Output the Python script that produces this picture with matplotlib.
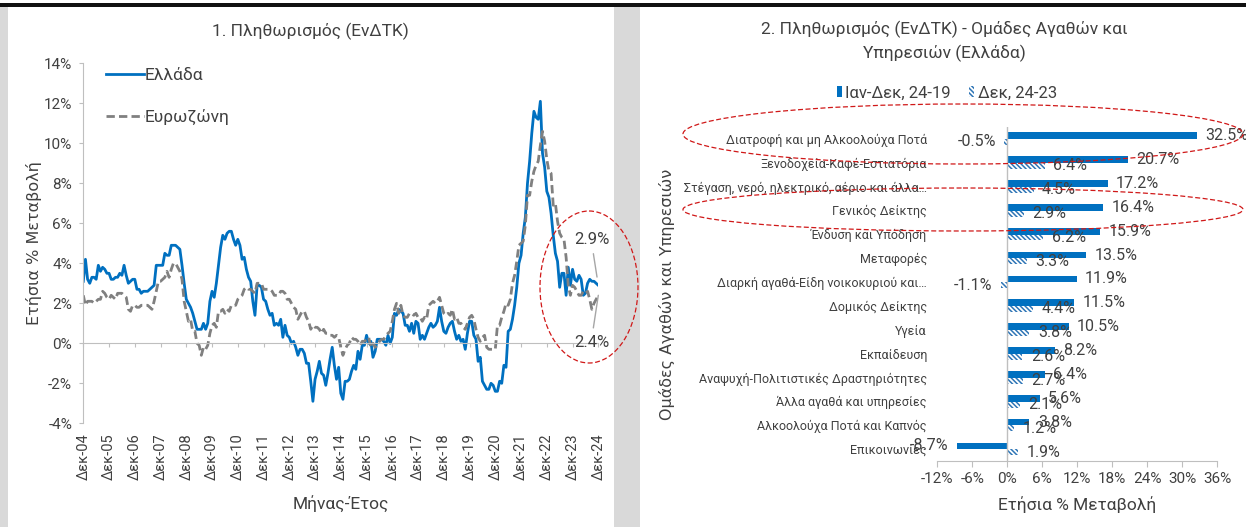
import numpy as np
import matplotlib
matplotlib.use("Agg")
import matplotlib.pyplot as plt
from matplotlib.patches import Ellipse, Rectangle

plt.rcParams['font.family'] = ['Roboto', 'DejaVu Sans']
plt.rcParams['hatch.linewidth'] = 1.1

W, H = 1246, 527
TXT = '#404040'
GRID = '#bfbfbf'

# ---- chart 1: annual HICP change, monthly, Dec 2004 - Dec 2024 ----
greece = [
    3.1,
    4.2, 3.2, 3.0, 3.3, 3.3, 3.2, 3.9, 3.6, 3.8, 3.7, 3.5, 3.5,        # 2005
    3.2, 3.2, 3.3, 3.3, 3.5, 3.4, 3.9, 3.4, 3.0, 3.1, 3.2, 3.2,        # 2006
    2.7, 2.7, 2.5, 2.6, 2.6, 2.6, 2.7, 2.8, 2.9, 3.9, 3.9, 3.9,        # 2007
    3.9, 4.5, 4.4, 4.4, 4.9, 4.9, 4.9, 4.8, 4.7, 3.9, 3.0, 2.2,        # 2008
    2.0, 1.8, 1.5, 1.1, 0.7, 0.7, 0.7, 1.0, 0.7, 1.0, 2.1, 2.6,        # 2009
    2.3, 3.0, 3.9, 4.8, 5.4, 5.2, 5.5, 5.6, 5.6, 5.2, 4.9, 5.2,        # 2010
    4.9, 4.2, 4.3, 3.7, 3.3, 3.1, 2.1, 1.4, 2.9, 2.9, 2.8, 2.2,        # 2011
    2.1, 1.7, 1.4, 1.5, 0.9, 1.0, 0.9, 1.2, 0.3, 0.9, 0.4, 0.3,        # 2012
    0.0, 0.1, -0.2, -0.6, -0.3, -0.3, -0.5, -1.0, -1.0, -1.9, -2.9, -1.8,  # 2013
    -1.4, -0.9, -1.5, -1.6, -2.1, -1.5, -0.8, -0.2, -1.1, -1.8, -1.2, -2.5,  # 2014
    -2.8, -1.9, -1.9, -1.8, -1.4, -1.1, -1.3, -0.4, -0.8, -0.1, -0.1, 0.4,  # 2015
    0.0, 0.1, -0.7, -0.4, 0.2, 0.2, 0.2, 0.1, -0.1, 0.4, 0.0, 0.3,     # 2016
    1.5, 1.4, 1.7, 1.6, 1.5, 0.9, 0.9, 0.6, 1.0, 0.5, 1.1, 1.0,        # 2017
    0.2, 0.4, 0.2, 0.5, 0.8, 1.0, 0.8, 0.9, 1.1, 1.8, 1.1, 0.6,        # 2018
    0.5, 0.8, 1.0, 1.1, 0.6, 0.2, 0.4, 0.1, 0.2, -0.3, 0.5, 1.1,       # 2019
    1.1, 0.4, 0.2, -0.9, -0.7, -1.9, -2.1, -2.3, -2.3, -2.0, -2.1, -2.4,  # 2020
    -2.4, -1.9, -2.0, -1.1, -1.2, 0.6, 0.7, 1.2, 1.9, 2.8, 4.0, 4.4,   # 2021
    5.5, 6.3, 8.0, 9.1, 10.5, 11.6, 11.3, 11.2, 12.1, 9.5, 8.8, 7.6,   # 2022
    7.3, 6.5, 5.4, 4.5, 4.1, 2.8, 3.5, 3.5, 2.4, 3.8, 2.9, 3.7,        # 2023
    3.2, 3.1, 3.4, 3.2, 2.4, 2.5, 3.0, 3.2, 3.1, 3.1, 3.0, 2.9,        # 2024
]

eurozone = [
    2.4,
    1.9, 2.1, 2.1, 2.1, 2.0, 2.1, 2.2, 2.2, 2.6, 2.5, 2.3, 2.2,        # 2005
    2.4, 2.3, 2.2, 2.5, 2.5, 2.5, 2.4, 2.3, 1.7, 1.6, 1.9, 1.9,        # 2006
    1.8, 1.8, 1.9, 1.9, 1.9, 1.9, 1.8, 1.7, 2.1, 2.6, 3.1, 3.1,        # 2007
    3.2, 3.3, 3.6, 3.3, 3.7, 4.0, 4.0, 3.8, 3.6, 3.2, 2.1, 1.6,        # 2008
    1.1, 1.2, 0.6, 0.6, 0.0, -0.1, -0.6, -0.2, -0.3, -0.1, 0.5, 0.9,   # 2009
    1.0, 0.8, 1.6, 1.6, 1.7, 1.5, 1.7, 1.6, 1.9, 1.9, 1.9, 2.2,        # 2010
    2.3, 2.4, 2.7, 2.8, 2.7, 2.7, 2.6, 2.5, 3.0, 3.0, 3.0, 2.7,        # 2011
    2.7, 2.7, 2.7, 2.6, 2.4, 2.4, 2.4, 2.6, 2.6, 2.5, 2.2, 2.2,        # 2012
    2.0, 1.8, 1.7, 1.2, 1.4, 1.6, 1.6, 1.3, 1.1, 0.7, 0.9, 0.8,        # 2013
    0.8, 0.7, 0.5, 0.7, 0.5, 0.5, 0.4, 0.4, 0.3, 0.4, 0.3, -0.2,       # 2014
    -0.6, -0.3, -0.1, 0.0, 0.3, 0.2, 0.2, 0.1, -0.1, 0.1, 0.1, 0.2,    # 2015
    0.3, -0.2, 0.0, -0.2, -0.1, 0.1, 0.2, 0.2, 0.4, 0.5, 0.6, 1.1,     # 2016
    1.7, 2.0, 1.5, 1.9, 1.4, 1.3, 1.3, 1.5, 1.5, 1.4, 1.5, 1.3,        # 2017
    1.3, 1.1, 1.3, 1.2, 1.9, 2.0, 2.1, 2.0, 2.1, 2.3, 1.9, 1.5,        # 2018
    1.4, 1.5, 1.4, 1.7, 1.2, 1.3, 1.0, 1.0, 0.8, 0.7, 1.0, 1.3,        # 2019
    1.4, 1.2, 0.7, 0.3, 0.1, 0.3, 0.4, -0.2, -0.3, -0.3, -0.3, -0.3,   # 2020
    0.9, 0.9, 1.3, 1.6, 2.0, 1.9, 2.2, 3.0, 3.4, 4.1, 4.9, 5.0,        # 2021
    5.1, 5.9, 7.4, 7.4, 8.1, 8.6, 8.9, 9.1, 9.9, 10.6, 10.1, 9.2,      # 2022
    8.6, 8.5, 6.9, 7.0, 6.1, 5.5, 5.3, 5.2, 4.3, 2.9, 2.4, 2.9,        # 2023
    2.8, 2.6, 2.4, 2.4, 2.6, 2.5, 2.6, 2.2, 1.7, 2.0, 2.2, 2.4,        # 2024
]

year_labels = ['Δεκ-%02d' % y for y in range(4, 25)]

# ---- chart 2: groups of goods & services (Greece) ----
categories = [
    'Διατροφή και μη Αλκοολούχα Ποτά',
    'Ξενοδοχεία-Καφέ-Εστιατόρια',
    'Στέγαση, νερό, ηλεκτρικό, αέριο και άλλα…',
    'Γενικός Δείκτης',
    'Ένδυση και Υπόδηση',
    'Μεταφορές',
    'Διαρκή αγαθά-Είδη νοικοκυριού και…',
    'Δομικός Δείκτης',
    'Υγεία',
    'Εκπαίδευση',
    'Αναψυχή-Πολιτιστικές Δραστηριότητες',
    'Άλλα αγαθά και υπηρεσίες',
    'Αλκοολούχα Ποτά και Καπνός',
    'Επικοινωνίες',
]
jan_dec_24_19 = [32.5, 20.7, 17.2, 16.4, 15.9, 13.5, 11.9, 11.5, 10.5, 8.2, 6.4, 5.6, 3.8, -8.7]
dec_24_23 = [-0.5, 6.4, 4.5, 2.9, 6.2, 3.3, -1.1, 4.4, 3.8, 2.6, 2.7, 2.1, 1.2, 1.9]


def px_axes(l, t, r, b, **kw):
    return fig.add_axes([l / W, 1 - b / H, (r - l) / W, (b - t) / H], **kw)


fig = plt.figure(figsize=(W / 100, H / 100), dpi=100)
fig.patch.set_facecolor('#d9d9d9')

# page background: white panels, black rule on top
bg = fig.add_axes([0, 0, 1, 1], zorder=-10)
bg.set_xlim(0, W)
bg.set_ylim(H, 0)
bg.axis('off')
bg.add_patch(Rectangle((8, 7), 606, H - 7, color='white', lw=0))
bg.add_patch(Rectangle((640, 7), W - 640, H - 7, color='white', lw=0))
bg.add_patch(Rectangle((0, 0), W, 2.5, color='white', lw=0))
bg.add_patch(Rectangle((0, 2.5), W, 4, color='#111111', lw=0))

# ---------------- left chart ----------------
ax1 = px_axes(83.3, 63.3, 598.3, 423.3)
x = np.arange(len(greece))
ax1.plot(x, greece, color='#0070c0', lw=2.0, label='Ελλάδα')
ax1.plot(x, eurozone, color='#808080', lw=2.0, ls=(0, (3, 1.5)), label='Ευρωζώνη')
ax1.set_xlim(0, len(greece) - 1)
ax1.set_ylim(-4, 14)
ax1.set_yticks(np.arange(-4, 15, 2))
ax1.set_yticklabels(['%d%%' % v for v in np.arange(-4, 15, 2)])
for s in ['top', 'right']:
    ax1.spines[s].set_visible(False)
ax1.spines['left'].set_color(GRID)
ax1.spines['bottom'].set_color(GRID)
ax1.spines['bottom'].set_position(('data', 0))
ax1.tick_params(axis='y', colors=GRID, labelcolor=TXT, labelsize=11, length=3, pad=5)
ticks = np.arange(0, len(greece), 12)
ax1.set_xticks(ticks)
ax1.tick_params(axis='x', colors=GRID, length=3, labelbottom=False)
sec = ax1.secondary_xaxis('bottom')
sec.set_xticks(ticks)
sec.set_xticklabels(year_labels, rotation=90)
sec.spines['bottom'].set_visible(False)
sec.tick_params(length=0, pad=7, labelsize=10.5, labelcolor=TXT)
sec.set_xlabel('Μήνας-Έτος', fontsize=12.5, color=TXT, labelpad=11)
ax1.set_ylabel('Ετήσια % Μεταβολή', fontsize=11.5, color=TXT,
               family=['DejaVu Sans'], labelpad=1)

ax1.legend(loc='upper left', bbox_to_anchor=(106 / W, 1 - 68 / H),
           bbox_transform=fig.transFigure, frameon=False, fontsize=12.5,
           borderaxespad=0, borderpad=0, handlelength=2.2, handletextpad=0.05,
           labelspacing=1.5, labelcolor=TXT)

ax1.annotate('%.1f%%' % greece[-1], xy=(x[-1], greece[-1]), xytext=(-6, 46),
             textcoords='offset pixels', ha='center', va='center', fontsize=12,
             color=TXT, annotation_clip=False,
             arrowprops=dict(arrowstyle='-', color='#a6a6a6', lw=1,
                             relpos=(0.5, 0), shrinkA=3, shrinkB=6))
ax1.annotate('%.1f%%' % eurozone[-1], xy=(x[-1], eurozone[-1]), xytext=(-6, -47),
             textcoords='offset pixels', ha='center', va='center', fontsize=12,
             color=TXT, annotation_clip=False,
             arrowprops=dict(arrowstyle='-', color='#a6a6a6', lw=1,
                             relpos=(0.5, 1), shrinkA=3, shrinkB=0))

fig.text(310 / W, 1 - 31 / H, '1. Πληθωρισμός (ΕνΔΤΚ)', ha='center', va='center',
         fontsize=12.5, color=TXT)

# ---------------- right chart ----------------
ax2 = px_axes(937.3, 126.9, 1217.3, 461.0)
y = np.arange(len(categories))
b2 = ax2.barh(y + 0.13, dec_24_23, height=0.26, color='white',
              edgecolor='#2e75b6', hatch='\\' * 7, lw=0, label='Δεκ, 24-23')
b1 = ax2.barh(y - 0.13, jan_dec_24_19, height=0.28, color='#0070c0',
              label='Ιαν-Δεκ, 24-19')
ax2.set_ylim(len(categories) - 0.5, -0.5)
ax2.set_xlim(-12, 36)
ax2.set_xticks(np.arange(-12, 37, 6))
ax2.set_xticklabels(['%d%%' % v for v in np.arange(-12, 37, 6)])
ax2.set_yticks(y)
ax2.set_yticklabels(categories)
for s in ['top', 'right', 'left']:
    ax2.spines[s].set_visible(False)
ax2.spines['bottom'].set_color(GRID)
ax2.axvline(0, color=GRID, lw=1, zorder=3)
ax2.tick_params(axis='x', colors=GRID, labelcolor=TXT, labelsize=11, length=4, pad=4)
ax2.tick_params(axis='y', length=0, pad=7.5, labelsize=9, labelcolor=TXT)
ax2.bar_label(b1, labels=['%.1f%%' % v for v in jan_dec_24_19], padding=6,
              fontsize=11.5, color=TXT)
ax2.bar_label(b2, labels=['%.1f%%' % v for v in dec_24_23], padding=6,
              fontsize=11.5, color=TXT)
ax2.set_xlabel('Ετήσια % Μεταβολή', fontsize=12.5, color=TXT, labelpad=7)
fig.text(667 / W, 1 - 294 / H, 'Ομάδες Αγαθών και Υπηρεσιών', rotation=90,
         ha='center', va='center', fontsize=11.5, color=TXT, family=['DejaVu Sans'])
ax2.legend(handles=[b1, b2], loc='center', bbox_to_anchor=(947 / W, 1 - 93 / H),
           bbox_transform=fig.transFigure, ncol=2, frameon=False, fontsize=12,
           handlelength=0.3, handleheight=0.65, handletextpad=0.2,
           columnspacing=1.1, borderpad=0, labelcolor=TXT)
fig.text(944 / W, 1 - 41 / H,
         '2. Πληθωρισμός (ΕνΔΤΚ) - Ομάδες Αγαθών και\nΥπηρεσιών (Ελλάδα)',
         ha='center', va='center', fontsize=12.5, color=TXT, linespacing=1.5)

# red dashed highlight ellipses on top of everything
ov = fig.add_axes([0, 0, 1, 1], zorder=20)
ov.set_xlim(0, W)
ov.set_ylim(H, 0)
ov.axis('off')
ov.patch.set_visible(False)
for cx, cy, ew, eh in [(589, 287, 98, 152), (963, 134, 560, 60), (963, 209.5, 560, 43)]:
    ov.add_patch(Ellipse((cx, cy), ew, eh, fill=False, ec='#d01818', lw=0.9,
                         ls=(0, (4, 2))))

fig.savefig('out.png', dpi=100, facecolor=fig.get_facecolor())
